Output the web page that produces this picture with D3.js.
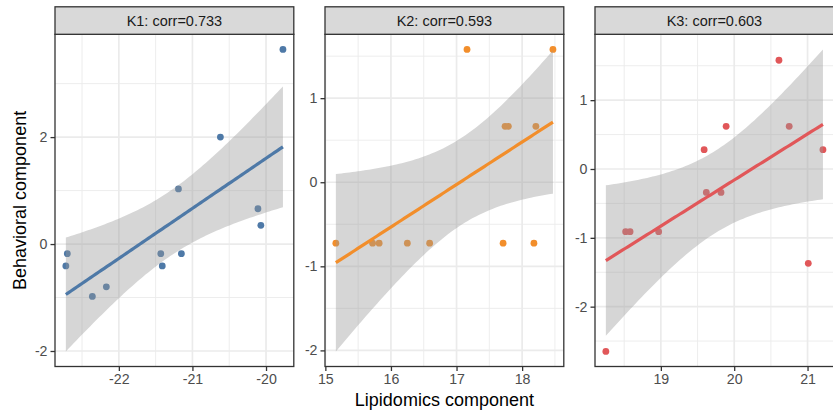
<!DOCTYPE html>
<html>
<head>
<meta charset="utf-8">
<script src="https://cdn.jsdelivr.net/npm/d3@7"></script>
<style>
  body { margin: 0; background: #fff; }
  svg { display: block; }
</style>
</head>
<body>
<svg id="chart" width="833" height="412"></svg>
<script>
// ---- data -------------------------------------------------------------
const facetKeys = ["K1", "K2", "K3"];
const stripLabels = ["K1: corr=0.733", "K2: corr=0.593", "K3: corr=0.603"];
const facetColors = ["#4e79a7", "#f28e2b", "#e15759"];

const k1Lipid = [-19.77, -20.62, -21.19, -20.11, -20.07, -22.70, -22.72, -22.36, -22.17, -21.43, -21.41, -21.15];
const k1Behav = [3.64, 2.00, 1.03, 0.66, 0.35, -0.18, -0.41, -0.98, -0.80, -0.18, -0.41, -0.18];

const k2Lipid = [17.16, 18.47, 17.74, 17.79, 18.21, 15.16, 15.72, 15.82, 16.25, 16.59, 17.71, 18.18];
const k2Behav = [1.58, 1.58, 0.665, 0.665, 0.665, -0.725, -0.725, -0.725, -0.725, -0.725, -0.725, -0.725];

const k3Lipid = [18.25, 18.52, 18.58, 18.97, 19.62, 19.82, 21.01, 19.59, 19.89, 20.61, 20.75, 21.21];
const k3Behav = [-2.65, -0.91, -0.91, -0.91, -0.34, -0.34, -1.37, 0.28, 0.62, 1.58, 0.62, 0.28];

const k1XTicks = [-22, -21, -20];
const k1YTicks = [-2, 0, 2];
const k2XTicks = [15, 16, 17, 18];
const k2YTicks = [-2, -1, 0, 1];
const k3XTicks = [19, 20, 21];
const k3YTicks = [-2, -1, 0, 1];

const xTitle = "Lipidomics component";
const yTitle = "Behavioral component";

// 97.5% Student t quantile for n - 2 = 10 degrees of freedom (95% band)
const tQuantile = 2.228;

// ---- layout -----------------------------------------------------------
const W = 833, H = 412;
const panelLeft = 55, panelWidth = 238.8, panelStep = 270;
const stripTop = 6.8, plotTop = 34.3, plotBottom = 366.5;

const facets = [
  { xs: k1Lipid, ys: k1Behav, xTicks: k1XTicks, yTicks: k1YTicks },
  { xs: k2Lipid, ys: k2Behav, xTicks: k2XTicks, yTicks: k2YTicks },
  { xs: k3Lipid, ys: k3Behav, xTicks: k3XTicks, yTicks: k3YTicks }
].map((f, i) => ({ ...f, key: facetKeys[i], label: stripLabels[i], color: facetColors[i] }));

// linear fit with pointwise confidence band, evaluated across the x range
function lmBand(xs, ys) {
  const n = xs.length, mx = d3.mean(xs), my = d3.mean(ys);
  let sxx = 0, sxy = 0;
  xs.forEach((x, i) => { sxx += (x - mx) ** 2; sxy += (x - mx) * (ys[i] - my); });
  const b = sxy / sxx, a = my - b * mx;
  const sse = d3.sum(xs, (x, i) => (ys[i] - a - b * x) ** 2);
  const s = Math.sqrt(sse / (n - 2));
  const [lo, hi] = d3.extent(xs);
  return d3.range(80).map(k => {
    const x = lo + (hi - lo) * k / 79;
    const yhat = a + b * x;
    const se = s * Math.sqrt(1 / n + (x - mx) ** 2 / sxx);
    return { x, y: yhat, lo: yhat - tQuantile * se, hi: yhat + tQuantile * se };
  });
}

function expand([a, b], f = 0.05) {
  const d = (b - a) * f;
  return [a - d, b + d];
}

function minorBreaks(ticks, domain) {
  const step = ticks[1] - ticks[0];
  const out = [];
  for (let v = ticks[0] - step / 2; v <= domain[1]; v += step) {
    if (v >= domain[0]) out.push(v);
  }
  return out;
}

const svg = d3.select("#chart");
svg.append("rect").attr("width", W).attr("height", H).attr("fill", "#fff");

const font = "'Liberation Sans', Arial, Helvetica, sans-serif";

facets.forEach((f, i) => {
  const x0 = panelLeft + i * panelStep;
  const band = lmBand(f.xs, f.ys);

  const xDomain = expand(d3.extent(f.xs));
  const yDomain = expand([
    Math.min(d3.min(f.ys), d3.min(band, d => d.lo)),
    Math.max(d3.max(f.ys), d3.max(band, d => d.hi))
  ]);

  const x = d3.scaleLinear().domain(xDomain).range([x0, x0 + panelWidth]);
  const y = d3.scaleLinear().domain(yDomain).range([plotBottom, plotTop]);

  const g = svg.append("g");
  const clipId = "clip-" + f.key;
  g.append("clipPath").attr("id", clipId)
    .append("rect").attr("x", x0).attr("y", plotTop)
    .attr("width", panelWidth).attr("height", plotBottom - plotTop);

  const inner = g.append("g").attr("clip-path", `url(#${clipId})`);

  // grid
  inner.selectAll(".gx-minor").data(minorBreaks(f.xTicks, xDomain)).join("line")
    .attr("x1", d => x(d)).attr("x2", d => x(d))
    .attr("y1", plotTop).attr("y2", plotBottom)
    .attr("stroke", "#ebebeb").attr("stroke-width", 0.9);
  inner.selectAll(".gy-minor").data(minorBreaks(f.yTicks, yDomain)).join("line")
    .attr("y1", d => y(d)).attr("y2", d => y(d))
    .attr("x1", x0).attr("x2", x0 + panelWidth)
    .attr("stroke", "#ebebeb").attr("stroke-width", 0.9);
  inner.selectAll(".gx").data(f.xTicks).join("line")
    .attr("x1", d => x(d)).attr("x2", d => x(d))
    .attr("y1", plotTop).attr("y2", plotBottom)
    .attr("stroke", "#ebebeb").attr("stroke-width", 1.7);
  inner.selectAll(".gy").data(f.yTicks).join("line")
    .attr("y1", d => y(d)).attr("y2", d => y(d))
    .attr("x1", x0).attr("x2", x0 + panelWidth)
    .attr("stroke", "#ebebeb").attr("stroke-width", 1.7);

  // points
  inner.selectAll("circle").data(f.xs.map((v, k) => [v, f.ys[k]])).join("circle")
    .attr("cx", d => x(d[0])).attr("cy", d => y(d[1]))
    .attr("r", 3.4).attr("fill", f.color);

  // confidence band and fitted line
  inner.append("path").datum(band)
    .attr("d", d3.area().x(d => x(d.x)).y0(d => y(d.lo)).y1(d => y(d.hi)))
    .attr("fill", "#999999").attr("fill-opacity", 0.4);
  inner.append("path").datum(band)
    .attr("d", d3.line().x(d => x(d.x)).y(d => y(d.y)))
    .attr("fill", "none").attr("stroke", f.color).attr("stroke-width", 3.2);

  // panel border
  g.append("rect").attr("x", x0).attr("y", plotTop)
    .attr("width", panelWidth).attr("height", plotBottom - plotTop)
    .attr("fill", "none").attr("stroke", "#333333").attr("stroke-width", 1.3);

  // strip
  g.append("rect").attr("x", x0).attr("y", stripTop)
    .attr("width", panelWidth).attr("height", plotTop - stripTop)
    .attr("fill", "#d9d9d9").attr("stroke", "#333333").attr("stroke-width", 1.3);
  g.append("text")
    .attr("x", x0 + panelWidth / 2).attr("y", (stripTop + plotTop) / 2)
    .attr("dy", "0.36em").attr("text-anchor", "middle")
    .attr("font-family", font).attr("font-size", 14.5).attr("fill", "#1a1a1a")
    .text(f.label);

  // axes
  const xAxis = g.append("g").attr("transform", `translate(0,${plotBottom})`)
    .call(d3.axisBottom(x).tickValues(f.xTicks).tickFormat(d => String(d))
      .tickSize(4.5).tickSizeOuter(0).tickPadding(3));
  const yAxis = g.append("g").attr("transform", `translate(${x0},0)`)
    .call(d3.axisLeft(y).tickValues(f.yTicks).tickFormat(d => String(d))
      .tickSize(4.5).tickSizeOuter(0).tickPadding(3));
  [xAxis, yAxis].forEach(ax => {
    ax.select(".domain").remove();
    ax.selectAll(".tick line").attr("stroke", "#333333").attr("stroke-width", 1.3);
    ax.selectAll(".tick text").attr("fill", "#4d4d4d")
      .attr("font-family", font).attr("font-size", 14.2);
  });
});

// axis titles
svg.append("text")
  .attr("x", panelLeft + (2 * panelStep + panelWidth) / 2).attr("y", 406)
  .attr("text-anchor", "middle")
  .attr("font-family", font).attr("font-size", 18).attr("fill", "#000")
  .text(xTitle);
svg.append("text")
  .attr("transform", `translate(25.5,${(plotTop + plotBottom) / 2}) rotate(-90)`)
  .attr("text-anchor", "middle")
  .attr("font-family", font).attr("font-size", 18).attr("fill", "#000")
  .text(yTitle);
</script>
</body>
</html>
